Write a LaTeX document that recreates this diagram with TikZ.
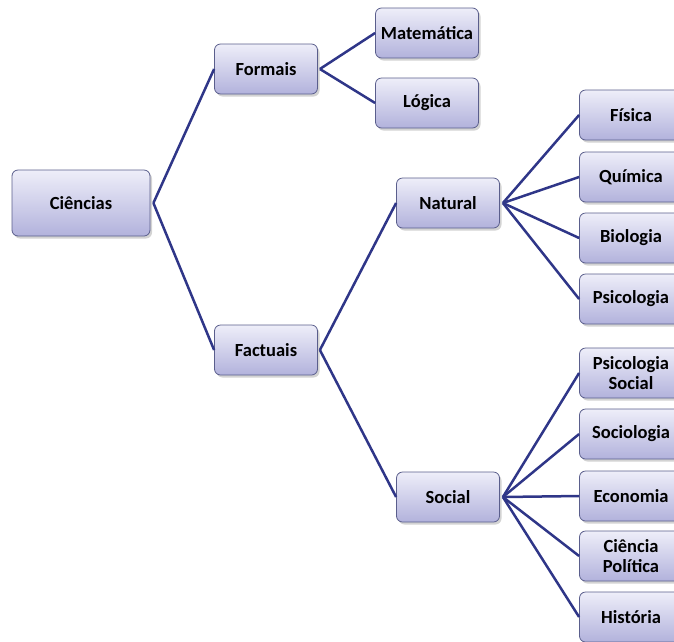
\documentclass[tikz,border=0pt]{standalone}
\usepackage{fontspec}
\setmainfont{Carlito}
\usetikzlibrary{shadows,positioning}
\definecolor{boxline}{HTML}{5A5E8C}
\definecolor{boxtop}{HTML}{EEEEF9}
\definecolor{boxbot}{HTML}{B2B2DC}
\definecolor{edgeblue}{HTML}{2F3688}
\tikzstyle{box}=[draw=boxline,line width=.8pt,rounded corners=6pt,top color=boxtop,bottom color=boxbot,
  minimum width=103pt,minimum height=50pt,align=center,inner sep=1pt,
  font=\fontsize{18.5}{19.5}\selectfont\bfseries,
  drop shadow={shadow xshift=2pt,shadow yshift=-2.5pt,opacity=.35}]
\tikzstyle{link}=[edgeblue,line width=2.5pt]

\begin{document}
\begin{tikzpicture}[x=1pt,y=-1pt]
        \clip (0,0) rectangle (674,641);

        \node[box,minimum width=138pt,minimum height=66pt] at (81,203) (cie) {Ciências};

        \node[box] at (266,69) (form) {Formais};
        \node[box] at (266,350) (fact) {Factuais};

        \node[box] at (427,33) (mat) {Matemática};
        \node[box] at (427,103) (log) {Lógica};

        \node[box] at (448,203) (nat) {Natural};
        \node[box] at (448,497) (soc) {Social};

        \node[box] at (631,115) (fis) {Física};
        \node[box] at (631,177) (qui) {Química};
        \node[box] at (631,238) (bio) {Biologia};
        \node[box] at (631,299) (psi) {Psicologia};

        \node[box] at (631,373) (psisoc) {Psicologia\\Social};
        \node[box] at (631,434) (socio) {Sociologia};
        \node[box] at (631,496) (eco) {Economia};
        \node[box] at (631,556) (pol) {Ciência\\Política};
        \node[box] at (631,617) (his) {História};

        \draw[link] (cie.east) ++(3,0) -- (form.west);
        \draw[link] (cie.east) ++(3,0) -- (fact.west);
        \draw[link] (form.east) ++(2,0) -- (mat.west);
        \draw[link] (form.east) ++(2,0) -- (log.west);
        \draw[link] (fact.east) ++(2,0) -- (nat.west);
        \draw[link] (fact.east) ++(2,0) -- (soc.west);
        \foreach \t in {fis,qui,bio,psi}
          \draw[link] (nat.east) ++(3,0) -- (\t.west);
        \foreach \t in {psisoc,socio,eco,pol,his}
          \draw[link] (soc.east) ++(3,0) -- (\t.west);
      \end{tikzpicture}
\end{document}
